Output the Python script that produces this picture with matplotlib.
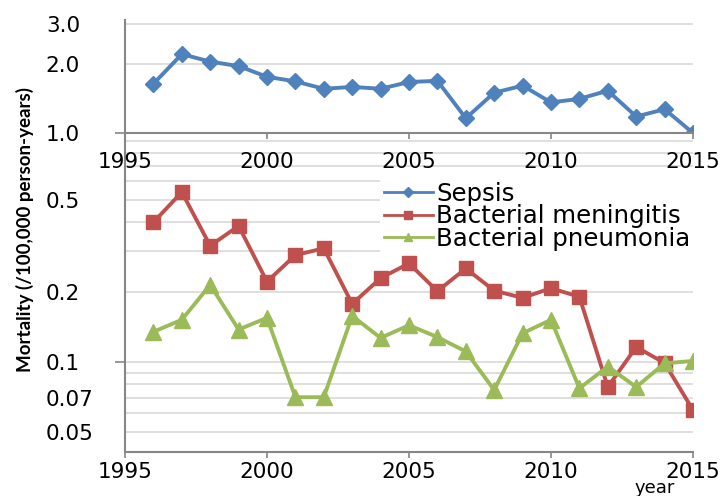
import numpy as np
import matplotlib.pyplot as plt
from matplotlib.ticker import FixedLocator, FixedFormatter

# Mortality per 100,000 person-years
years = list(range(1996, 2016))
sepsis = [1.64, 2.21, 2.05, 1.96, 1.76, 1.68, 1.56, 1.59, 1.56, 1.67,
          1.69, 1.16, 1.50, 1.61, 1.36, 1.41, 1.53, 1.18, 1.27, 1.00]
meningitis = [0.40, 0.54, 0.317, 0.386, 0.222, 0.289, 0.309, 0.178, 0.23, 0.266,
              0.202, 0.253, 0.203, 0.189, 0.208, 0.191, 0.078, 0.116, 0.099, 0.062]
pneumonia = [0.135, 0.152, 0.215, 0.138, 0.155, 0.0705, 0.0705, 0.158, 0.127, 0.144,
             0.128, 0.111, 0.0757, 0.133, 0.152, 0.077, 0.0955, 0.078, 0.0987, 0.101]

series_names = ['Sepsis', 'Bacterial meningitis', 'Bacterial pneumonia']
colors = ['#4F81BD', '#C0504D', '#9BBB59']
year_ticks = [1995, 2000, 2005, 2010, 2015]
top_labels = ['1.0', '2.0', '3.0']
bottom_labels = ['0.05', '0.07', '0.1', '0.2', '0.5']

W, H = 723, 496
fig = plt.figure(figsize=(W / 100, H / 100), dpi=100)
grid_c = '#d9d9d9'
spine_c = '#868686'
tick_fs = 15.5

def px_axes(left, right, top, bottom):
    return fig.add_axes([left / W, (H - bottom) / H, (right - left) / W, (bottom - top) / H])

# bottom panel (meningitis, pneumonia)
axb = px_axes(125, 693, 135.2, 451.8)
axb.set_yscale('log')
axb.set_ylim(0.041, 0.95)
axb.set_xlim(1995, 2015)

# top panel (sepsis)
axt = px_axes(125, 693, 20.5, 133)
axt.set_yscale('log')
axt.set_ylim(1.0, 3.1)
axt.set_xlim(1995, 2015)

for ax in (axt, axb):
    ax.set_facecolor('none')
    for s in ['top', 'right']:
        ax.spines[s].set_visible(False)
    for s in ['left', 'bottom']:
        ax.spines[s].set_color(spine_c)
        ax.spines[s].set_linewidth(1.5)
    ax.set_xticks(year_ticks)
    ax.set_xticklabels([str(y) for y in year_ticks])
    ax.tick_params(axis='x', labelsize=tick_fs, color=spine_c, length=4, width=1.2)
    ax.set_axisbelow(True)

axt.tick_params(axis='x', pad=10)
axb.tick_params(axis='x', pad=3)

# y ticks: gridlines everywhere, tick mark only at decades
axt.yaxis.set_major_locator(FixedLocator([1.0]))
axt.yaxis.set_major_formatter(FixedFormatter(top_labels[:1]))
axt.yaxis.set_minor_locator(FixedLocator([2.0, 3.0]))
axt.yaxis.set_minor_formatter(FixedFormatter(top_labels[1:]))

bottom_minor = [0.05, 0.06, 0.07, 0.08, 0.09, 0.2, 0.3, 0.4, 0.5, 0.6, 0.7, 0.8, 0.9]
minor_lab = {float(t): t for t in bottom_labels if t != '0.1'}
axb.yaxis.set_major_locator(FixedLocator([0.1]))
axb.yaxis.set_major_formatter(FixedFormatter(['0.1']))
axb.yaxis.set_minor_locator(FixedLocator(bottom_minor))
axb.yaxis.set_minor_formatter(FixedFormatter([minor_lab.get(v, '') for v in bottom_minor]))

for ax in (axt, axb):
    ax.tick_params(axis='y', which='major', length=7.5, width=1.2, color=spine_c,
                   labelsize=tick_fs, pad=49.5)
    ax.tick_params(axis='y', which='minor', length=0, labelsize=tick_fs, pad=57)
    for lab in ax.get_yticklabels(which='both'):
        lab.set_horizontalalignment('left')
    ax.grid(True, axis='y', which='both', color=grid_c, linewidth=1.2)

axt.plot(years, sepsis, color=colors[0], lw=2.8, marker='D', ms=8.5, label=series_names[0])
axb.plot(years, meningitis, color=colors[1], lw=2.8, marker='s', ms=10, label=series_names[1])
axb.plot(years, pneumonia, color=colors[2], lw=2.8, marker='^', ms=11, label=series_names[2])

handles = [axt.get_lines()[0]] + axb.get_lines()
leg = axb.legend(handles, series_names, loc='upper left',
                 bbox_to_anchor=(380 / W, (H - 178) / H), bbox_transform=fig.transFigure,
                 fontsize=17.6, frameon=True, fancybox=False, framealpha=1,
                 handlelength=2.0, handletextpad=0.15, labelspacing=-0.06,
                 borderpad=0.15, borderaxespad=0, markerscale=0.55)
leg.get_frame().set_edgecolor('none')
leg.get_frame().set_facecolor('white')
for ln in leg.get_lines():
    ln.set_linewidth(2.0)

fig.text(25 / W, (H - 230) / H, 'Mortality (/100,000 person-years)', rotation=90,
         ha='center', va='center', fontsize=13.5, fontweight='bold',
         family=['Lato', 'DejaVu Sans'])
fig.text(655 / W, (H - 488) / H, 'year', ha='center', va='center', fontsize=13)

fig.savefig('out.png', dpi=100)
